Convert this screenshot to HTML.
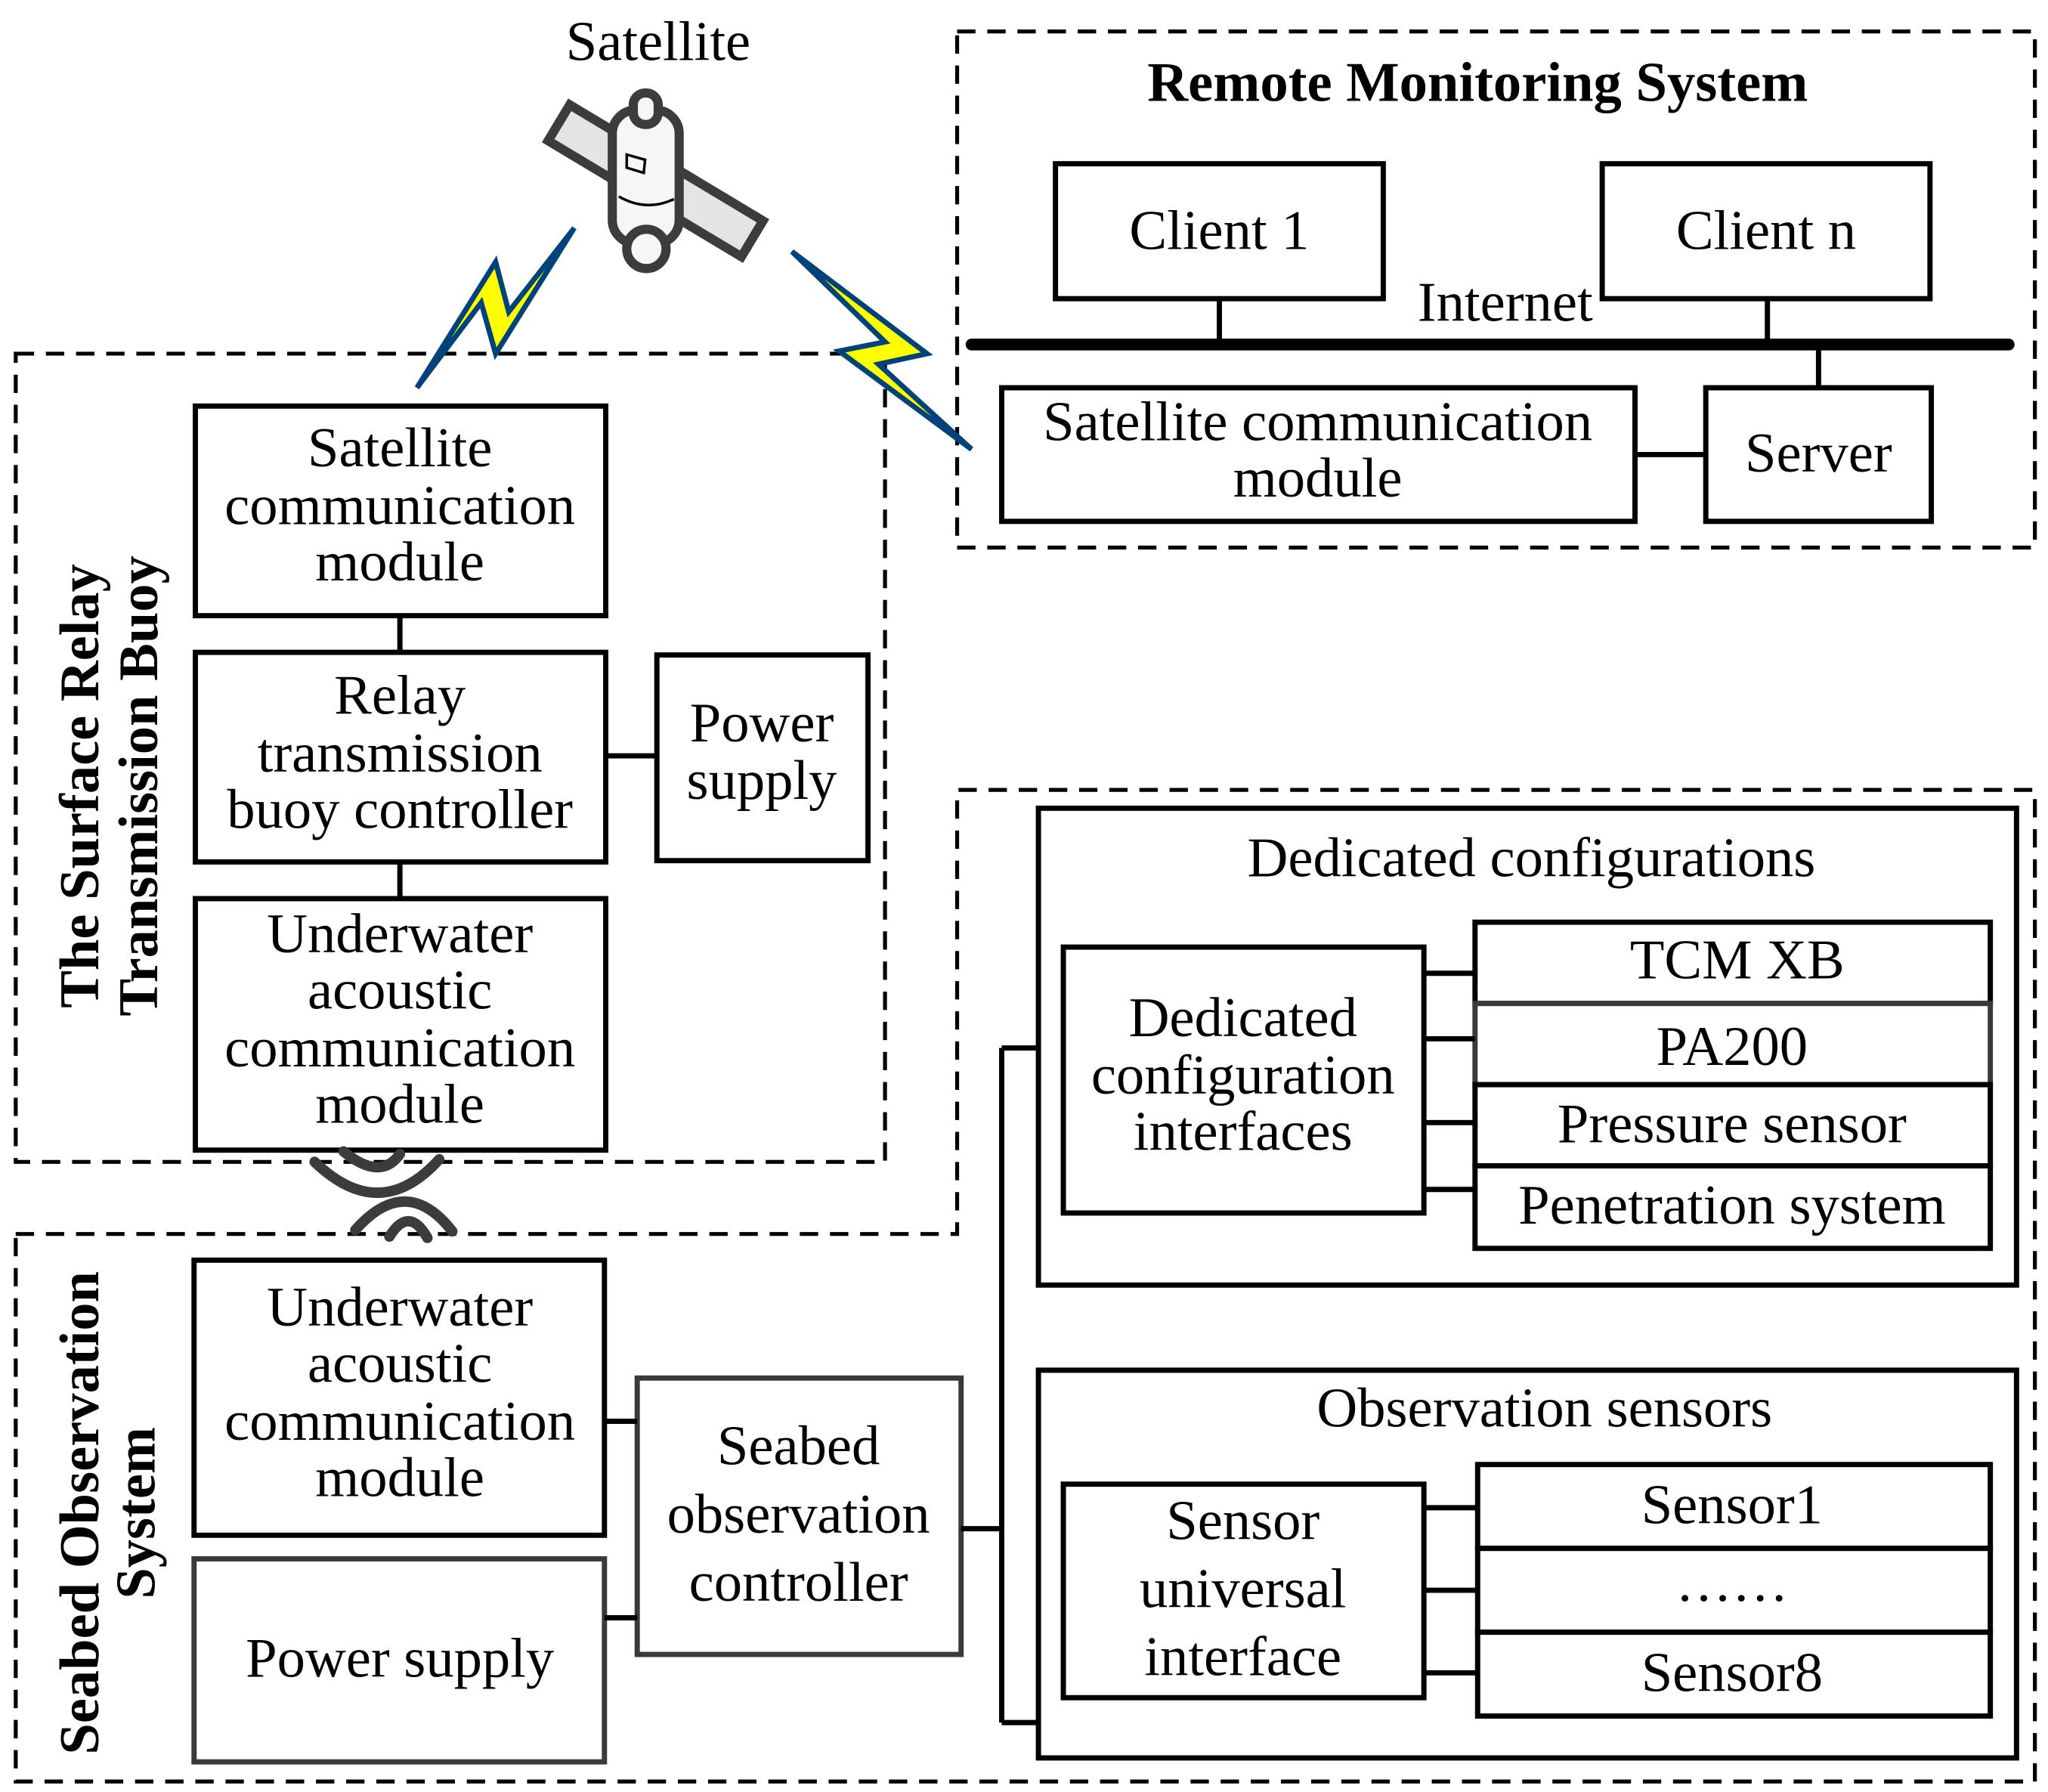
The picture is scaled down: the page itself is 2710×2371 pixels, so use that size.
<!DOCTYPE html>
<html><head><meta charset="utf-8"><style>html,body{margin:0;padding:0;background:#fff}svg{display:block;font-family:"Liberation Serif",serif}</style></head>
<body>
<svg width="2710" height="2371" viewBox="0 0 1562 1368" preserveAspectRatio="none" xmlns="http://www.w3.org/2000/svg" style="font-family:'Liberation Serif',serif" font-size="43" text-anchor="middle">
<g fill="none" stroke="#000" stroke-width="3" stroke-dasharray="14,9">
<rect x="12" y="270" width="663" height="617"/>
<rect x="730" y="24" width="822" height="394"/>
<path d="M12 942 H730 V603 H1552 V1360 H12 Z"/>
</g>
<g fill="none" stroke="#000" stroke-width="4">
<rect x="149" y="310" width="313" height="160"/>
<rect x="149" y="498" width="313" height="160"/>
<rect x="501" y="500" width="161" height="157"/>
<rect x="149" y="686" width="313" height="192"/>
<rect x="805" y="125" width="250" height="103"/>
<rect x="1222" y="125" width="250" height="103"/>
<rect x="764" y="296" width="483" height="102"/>
<rect x="1301" y="296" width="172" height="102"/>
<rect x="148" y="962" width="313" height="210"/>
<rect x="148" y="1190" width="313" height="155" stroke="#3a3a3a"/>
<rect x="486" y="1052" width="247" height="211" stroke="#3a3a3a"/>
<rect x="792" y="617" width="746" height="364"/>
<rect x="811" y="723" width="275" height="203"/>
<rect x="1125" y="704" width="393" height="62"/>
<rect x="1125" y="766" width="393" height="62" stroke="#3a3a3a"/>
<rect x="1125" y="828" width="393" height="62"/>
<rect x="1125" y="890" width="393" height="63"/>
<rect x="792" y="1046" width="746" height="296"/>
<rect x="811" y="1133" width="275" height="163"/>
<rect x="1127" y="1118" width="391" height="64"/>
<rect x="1127" y="1182" width="391" height="64"/>
<rect x="1127" y="1246" width="391" height="64"/>
<path d="M305 470V498 M305 658V686 M462 577H501 M930 228V262 M1348 228V262 M1387 262V296 M1247 347H1301 M461 1085H486 M461 1235H486 M733 1167H764 M764 800V1315 M764 800H792 M764 1315H792 M1086 743H1125 M1086 793H1125 M1086 857H1125 M1086 908H1125 M1086 1151H1127 M1086 1214H1127 M1086 1277H1127"/>
</g>
<path d="M741 263H1532" stroke="#000" stroke-width="9" stroke-linecap="round"/>
<g fill="none" stroke="#3c3c3c" stroke-width="8" stroke-linecap="round">
<path d="M240 887 Q290 935 335 885"/>
<path d="M262 879 Q290 902 305 881"/>
<path d="M271 939 Q310 895 345 940"/>
<path d="M297 944 Q312 920 326 945"/>
</g>
<g fill="#ffff00" stroke="#00427a" stroke-width="4" stroke-linejoin="miter">
<path d="M438 174 L388 238 L378 200 L318 296 L367 231 L378 270 Z"/>
<path d="M604 192 L707 270 L670 278 L741 343 L640 268 L675 261 Z"/>
</g>
<g transform="translate(500,138) rotate(31)">
<rect x="-86" y="-16" width="172" height="32" fill="#e4e4e4" stroke="#3c3c3c" stroke-width="7"/>
</g>
<g stroke="#3c3c3c" stroke-width="7" fill="#f6f6f6">
<rect x="467" y="84" width="51" height="102" rx="18"/>
<rect x="483" y="71" width="19" height="24" rx="9"/>
<circle cx="493" cy="190" r="15"/>
</g>
<path d="M478 118 L492 122 L491 132 L478 128Z M472 150 Q493 162 514 152" fill="none" stroke="#000" stroke-width="2"/>
<text x="502" y="46">Satellite</text>
<text x="1127" y="77" font-weight="bold">Remote Monitoring System</text>
<text x="930" y="190">Client 1</text>
<text x="1347" y="190">Client n</text>
<text x="1148" y="245">Internet</text>
<text x="1005" y="336">Satellite communication</text>
<text x="1005" y="379">module</text>
<text x="1387" y="360">Server</text>
<text x="305" y="356">Satellite</text>
<text x="305" y="400">communication</text>
<text x="305" y="443">module</text>
<text x="305" y="545">Relay</text>
<text x="305" y="589">transmission</text>
<text x="305" y="632">buoy controller</text>
<text x="581" y="566">Power</text>
<text x="581" y="610">supply</text>
<text x="305" y="727">Underwater</text>
<text x="305" y="770">acoustic</text>
<text x="305" y="814">communication</text>
<text x="305" y="857">module</text>
<text x="305" y="1012">Underwater</text>
<text x="305" y="1055">acoustic</text>
<text x="305" y="1099">communication</text>
<text x="305" y="1142">module</text>
<text x="305" y="1280">Power supply</text>
<text x="609" y="1118">Seabed</text>
<text x="609" y="1170">observation</text>
<text x="609" y="1222">controller</text>
<text x="1168" y="669">Dedicated configurations</text>
<text x="948" y="791">Dedicated</text>
<text x="948" y="835">configuration</text>
<text x="948" y="878">interfaces</text>
<text x="1325" y="747">TCM XB</text>
<text x="1321" y="813">PA200</text>
<text x="1321" y="872">Pressure sensor</text>
<text x="1321" y="934">Penetration system</text>
<text x="1178" y="1089">Observation sensors</text>
<text x="948" y="1175">Sensor</text>
<text x="948" y="1227">universal</text>
<text x="948" y="1279">interface</text>
<text x="1321" y="1163">Sensor1</text>
<text x="1321" y="1222">……</text>
<text x="1321" y="1291">Sensor8</text>
<g font-weight="bold">
<text transform="translate(75,600) rotate(-90)">The Surface Relay</text>
<text transform="translate(120,600) rotate(-90)">Transmission Buoy</text>
<text transform="translate(75,1155) rotate(-90)">Seabed Observation</text>
<text transform="translate(118,1155) rotate(-90)">System</text>
</g>
</svg>
</body></html>
